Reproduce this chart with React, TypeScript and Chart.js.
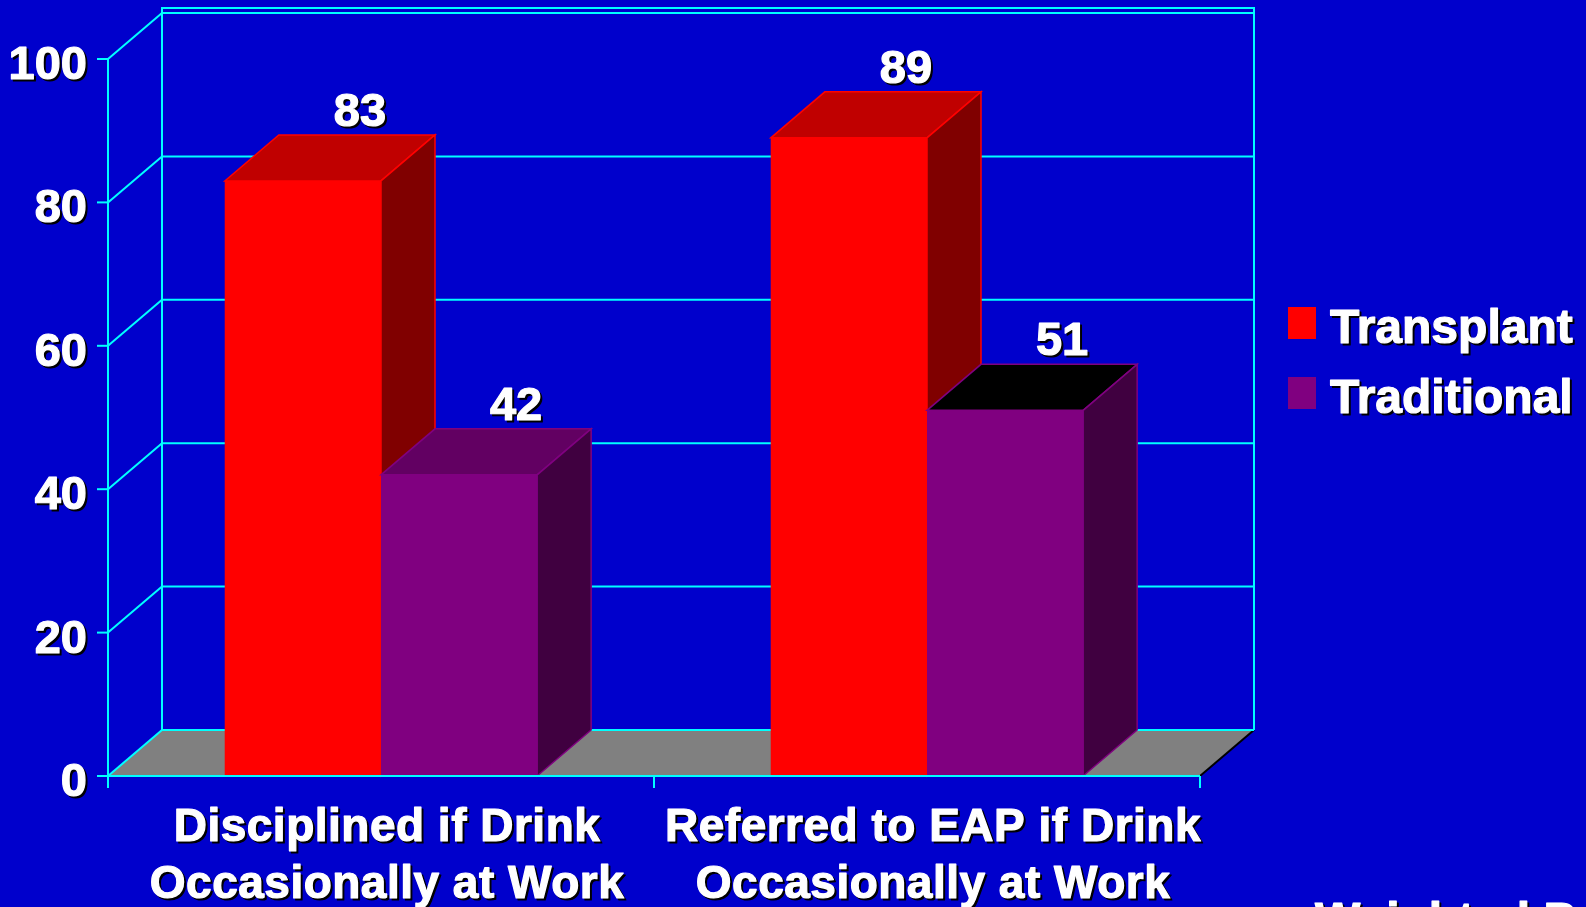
import React, { useEffect, useRef } from "react";
import { Chart, registerables } from "chart.js";

Chart.register(...registerables);

// ---- data ----
const categories: string[][] = [
  ["Disciplined if Drink", "Occasionally at Work"],
  ["Referred to EAP if Drink", "Occasionally at Work"],
];
const seriesNames = ["Transplant", "Traditional"];
const transplantValues = [83, 89];
const traditionalValues = [42, 51];
const yTicks = [0, 20, 40, 60, 80, 100];
const footnote = "Weighted Pct.";

// ---- styles ----
const BG = "#0000CC";
const GRID = "#00FFFF";
const FLOOR = "#808080";
const FRONT = ["#FF0000", "#800080"];
const SIDE = ["#800000", "#400040"];
const TOPS = [
  ["#C00000", "#C00000"],
  ["#620062", "#000000"],
];
const EDGE = ["#FF0000", "#800080"];
const DX = 54;
const DY = -46;
const FONT = '"Liberation Sans", Arial, Helvetica, sans-serif';

function shadowText(ctx: CanvasRenderingContext2D, t: string, x: number, y: number) {
  ctx.lineJoin = "round";
  ctx.lineWidth = 1.2;
  ctx.fillStyle = "#000000";
  ctx.strokeStyle = "#000000";
  ctx.fillText(t, x + 2, y + 2);
  ctx.strokeText(t, x + 2, y + 2);
  ctx.fillStyle = "#FFFFFF";
  ctx.strokeStyle = "#FFFFFF";
  ctx.fillText(t, x, y);
  ctx.strokeText(t, x, y);
}

function line(ctx: CanvasRenderingContext2D, x1: number, y1: number, x2: number, y2: number) {
  ctx.beginPath();
  ctx.moveTo(x1, y1);
  ctx.lineTo(x2, y2);
  ctx.stroke();
}

const scene3d = {
  id: "scene3d",
  beforeDraw(chart: any) {
    const ctx: CanvasRenderingContext2D = chart.ctx;
    ctx.save();
    ctx.fillStyle = BG;
    ctx.fillRect(0, 0, chart.width, chart.height);
    ctx.restore();
  },
  beforeDatasetsDraw(chart: any) {
    const ctx: CanvasRenderingContext2D = chart.ctx;
    const { left, right } = chart.chartArea;
    const y = chart.scales.y;
    const bottom = y.getPixelForValue(0);
    const top = y.getPixelForValue(100);
    ctx.save();
    // floor
    ctx.fillStyle = FLOOR;
    ctx.beginPath();
    ctx.moveTo(left, bottom);
    ctx.lineTo(right, bottom);
    ctx.lineTo(right + DX, bottom + DY);
    ctx.lineTo(left + DX, bottom + DY);
    ctx.closePath();
    ctx.fill();
    // right floor edge
    ctx.strokeStyle = "#000000";
    ctx.lineWidth = 2;
    line(ctx, right, bottom, right + DX, bottom + DY);
    // back wall grid
    ctx.strokeStyle = GRID;
    ctx.lineWidth = 2;
    yTicks.forEach((v) => {
      const py = y.getPixelForValue(v);
      line(ctx, left, py, left + DX, py + DY);
      line(ctx, left + DX, py + DY, right + DX, py + DY);
    });
    line(ctx, left + DX, top + DY - 5, right + DX, top + DY - 5);
    line(ctx, left + DX, top + DY - 6, left + DX, bottom + DY);
    line(ctx, right + DX, top + DY - 6, right + DX, bottom + DY);
    ctx.restore();
  },
  afterDatasetsDraw(chart: any) {
    const ctx: CanvasRenderingContext2D = chart.ctx;
    const { left, right } = chart.chartArea;
    const y = chart.scales.y;
    const x = chart.scales.x;
    const bottom = y.getPixelForValue(0);
    const top = y.getPixelForValue(100);
    ctx.save();
    ctx.lineJoin = "miter";
    const nCat = categories.length;
    const nSer = chart.data.datasets.length;
    for (let i = 0; i < nCat; i++) {
      for (let d = 0; d < nSer; d++) {
        const el: any = chart.getDatasetMeta(d).data[i];
        const l = el.x - el.width / 2;
        const r = el.x + el.width / 2;
        const t = el.y;
        const b = el.base;
        ctx.fillStyle = FRONT[d];
        ctx.fillRect(l, t, r - l, b - t);
        ctx.strokeStyle = EDGE[d];
        ctx.lineWidth = 1.5;
        // top
        ctx.fillStyle = TOPS[d][i];
        ctx.beginPath();
        ctx.moveTo(l, t);
        ctx.lineTo(r, t);
        ctx.lineTo(r + DX, t + DY);
        ctx.lineTo(l + DX, t + DY);
        ctx.closePath();
        ctx.fill();
        ctx.stroke();
        // side
        ctx.fillStyle = SIDE[d];
        ctx.beginPath();
        ctx.moveTo(r, t);
        ctx.lineTo(r + DX, t + DY);
        ctx.lineTo(r + DX, b + DY);
        ctx.lineTo(r, b);
        ctx.closePath();
        ctx.fill();
        ctx.stroke();
      }
    }
    // front axes
    ctx.strokeStyle = GRID;
    ctx.lineWidth = 2;
    line(ctx, left, top, left, bottom + 12);
    line(ctx, left - 2, bottom, right, bottom);
    yTicks.forEach((v) => {
      const py = y.getPixelForValue(v);
      line(ctx, left - 11, py, left, py);
    });
    const c0 = x.getPixelForValue(0);
    const c1 = x.getPixelForValue(1);
    const half = (c1 - c0) / 2;
    [c0 - half, c0 + half, c1 + half].forEach((px) => line(ctx, px, bottom, px, bottom + 12));

    // value labels
    ctx.font = `bold 47px ${FONT}`;
    ctx.textAlign = "center";
    ctx.textBaseline = "alphabetic";
    for (let d = 0; d < nSer; d++) {
      const meta = chart.getDatasetMeta(d);
      meta.data.forEach((el: any, i: number) => {
        const val = chart.data.datasets[d].data[i];
        shadowText(ctx, String(val), el.x + DX + 3, el.y + DY - 9);
      });
    }
    // y tick labels
    ctx.font = `bold 47px ${FONT}`;
    ctx.textAlign = "right";
    yTicks.forEach((v) => {
      shadowText(ctx, String(v), left - 21, y.getPixelForValue(v) + 20);
    });
    // category labels
    ctx.font = `bold 46px ${FONT}`;
    ctx.textAlign = "center";
    (ctx as any).letterSpacing = "0.5px";
    categories.forEach((lines, i) => {
      const cx = x.getPixelForValue(i) + 6;
      lines.forEach((s, k) => shadowText(ctx, s, cx, bottom + 65 + k * 57));
    });
    (ctx as any).letterSpacing = "0px";
    // legend
    ctx.font = `bold 48px ${FONT}`;
    ctx.textAlign = "left";
    seriesNames.forEach((name, k) => {
      const by = 307 + k * 70;
      ctx.fillStyle = FRONT[k];
      ctx.fillRect(right + 88, by, 28, 32);
      shadowText(ctx, name, right + 130, by + 36);
    });
    // footnote (cut off at bottom)
    shadowText(ctx, footnote, right + 115, bottom + 160);
    ctx.restore();
  },
};

export default function App() {
  const ref = useRef<HTMLCanvasElement | null>(null);
  useEffect(() => {
    if (!ref.current) return;
    const chart = new Chart(ref.current, {
      type: "bar",
      data: {
        labels: categories as any,
        datasets: [
          {
            label: seriesNames[0],
            data: transplantValues,
            backgroundColor: FRONT[0],
            borderWidth: 0,
            barPercentage: 1,
            categoryPercentage: 0.572,
          },
          {
            label: seriesNames[1],
            data: traditionalValues,
            backgroundColor: FRONT[1],
            borderWidth: 0,
            barPercentage: 1,
            categoryPercentage: 0.572,
          },
        ],
      },
      options: {
        animation: false,
        responsive: false,
        maintainAspectRatio: false,
        devicePixelRatio: 1,
        layout: { padding: { left: 108, right: 386, top: 59, bottom: 131 } },
        scales: {
          x: { display: false },
          y: { display: false, min: 0, max: 100, ticks: { stepSize: 20 } },
        },
        plugins: { legend: { display: false }, tooltip: { enabled: false } },
      },
      plugins: [scene3d],
    });
    return () => chart.destroy();
  }, []);
  return (
    <div
      style={{
        position: "absolute",
        left: 0,
        top: 0,
        width: 1586,
        height: 907,
        overflow: "hidden",
        background: BG,
      }}
    >
      <canvas ref={ref} width={1586} height={907} style={{ display: "block", width: 1586, height: 907 }} />
    </div>
  );
}
